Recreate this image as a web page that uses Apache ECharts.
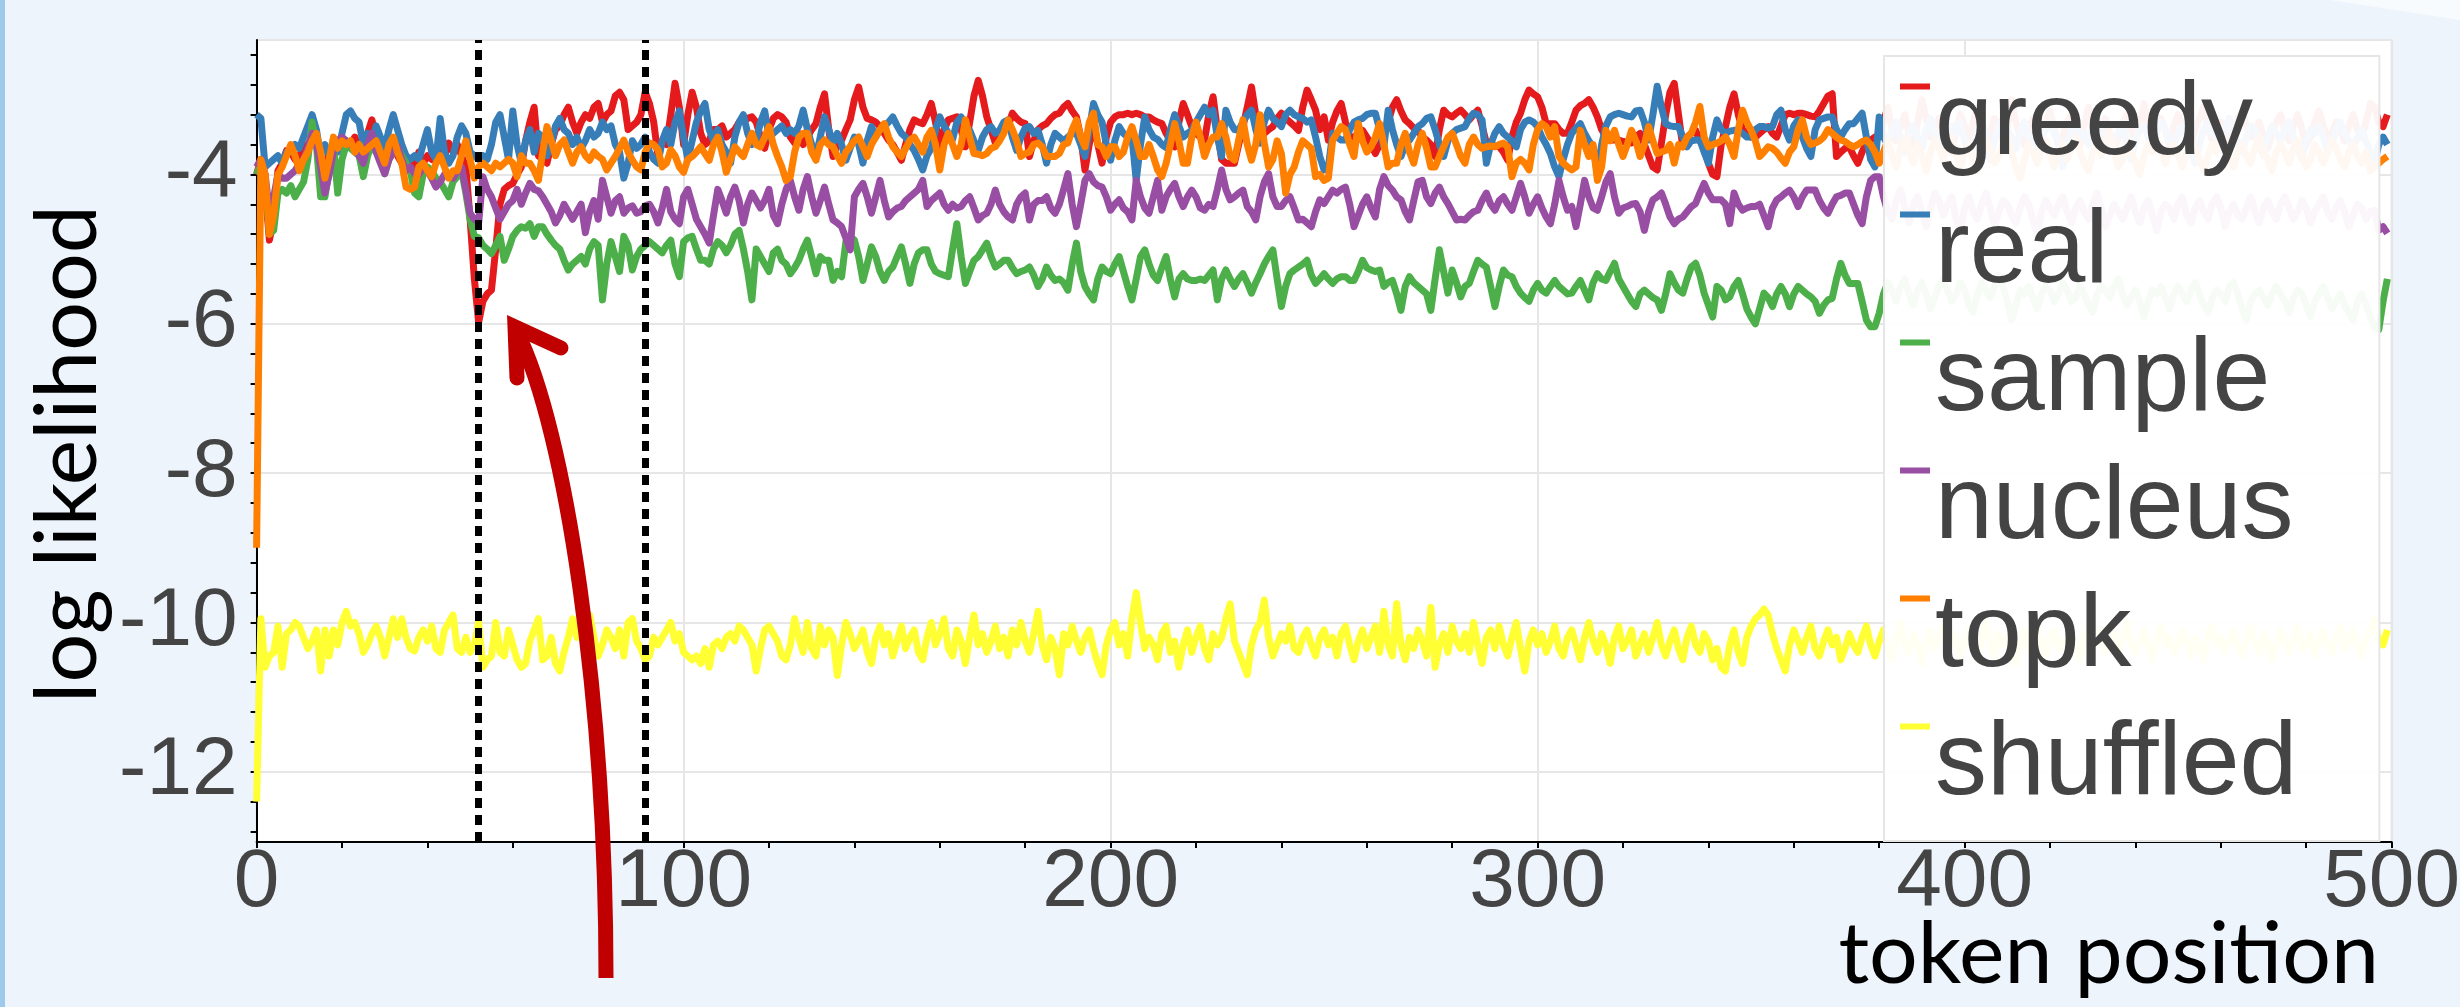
<!DOCTYPE html>
<html>
<head>
<meta charset="utf-8">
<script src="https://cdn.jsdelivr.net/npm/echarts@6/dist/echarts.min.js"></script>
<style>
html,body{margin:0;padding:0;background:#EDF4FB;}
#chart{width:2460px;height:1007px;}
</style>
</head>
<body>
<div id="chart"></div>
<script>
const seriesNames = ['greedy','real','sample','nucleus','topk','shuffled'];
const seriesColors = ['#e41a1c','#377eb8','#4daf4a','#984ea3','#ff7f00','#ffff33'];
const xTickLabels = [0,100,200,300,400,500];
const yTickLabels = [-12,-10,-8,-6,-4];
const yTickValues = [-12.8,-12.4,-12,-11.6,-11.2,-10.8,-10.4,-10,-9.6,-9.2,-8.8,-8.4,-8,-7.6,-7.2,-6.8,-6.4,-6,-5.6,-5.2,-4.8,-4.4,-4,-3.6,-3.2,-2.8,-2.4];
const markerPositions = [52, 91];

const greedy = [
-4.0,-3.8,-4.2,-4.88,-4.6,-3.95,-3.85,-3.68,-3.7,-3.8,-3.75,-3.65,-3.6,-3.5,-3.55,-3.85,-3.95,-3.7,-3.6,-3.65,-3.7,-3.55,-3.6,-3.5,-3.65,
-3.7,-3.45,-3.27,-3.5,-3.65,-3.8,-3.7,-3.55,-3.75,-3.85,-3.95,-3.8,-3.9,-3.7,-3.85,-3.75,-3.8,-3.7,-3.65,-3.75,-3.58,-3.7,-3.6,-3.75,-3.9,
-4.6,-5.4,-5.98,-5.7,-5.6,-5.55,-5.0,-4.4,-4.2,-4.15,-4.12,-4.0,-3.9,-3.55,-3.3,-3.1,-3.75,-3.8,-3.85,-3.6,-3.4,-3.35,-3.2,-3.1,-3.3,
-3.45,-3.3,-3.2,-3.25,-3.1,-3.05,-3.3,-3.2,-3.15,-2.95,-2.9,-3.0,-3.4,-3.35,-3.3,-3.2,-2.9,-3.05,-3.3,-3.75,-3.55,-3.6,-3.2,-2.78,-3.1,
-3.6,-3.2,-2.9,-3.1,-3.45,-3.6,-3.55,-3.4,-3.4,-3.35,-3.5,-3.45,-3.4,-3.3,-3.25,-3.25,-3.23,-3.3,-3.5,-3.65,-3.4,-3.25,-3.2,-3.23,-3.3,
-3.5,-3.58,-3.45,-3.6,-3.5,-3.4,-3.32,-3.1,-2.92,-3.4,-3.76,-3.6,-3.54,-3.4,-3.27,-3.0,-2.83,-3.1,-3.25,-3.27,-3.3,-3.36,-3.45,-3.54,-3.6,
-3.7,-3.81,-3.6,-3.4,-3.27,-3.3,-3.32,-3.2,-3.05,-3.3,-3.63,-3.4,-3.27,-3.25,-3.23,-3.4,-3.63,-3.3,-2.95,-2.74,-2.95,-3.23,-3.4,-3.58,-3.45,
-3.4,-3.36,-3.18,-3.25,-3.3,-3.32,-3.76,-3.55,-3.4,-3.35,-3.32,-3.25,-3.2,-3.18,-3.1,-3.05,-3.15,-3.23,-3.5,-3.94,-3.6,-3.32,-3.6,-3.85,-3.5,
-3.3,-3.23,-3.2,-3.2,-3.18,-3.2,-3.18,-3.2,-3.23,-3.23,-3.27,-3.3,-3.32,-3.45,-3.55,-3.63,-3.3,-3.05,-3.2,-3.36,-3.45,-3.5,-3.54,-3.2,-2.96,
-3.4,-3.8,-3.85,-3.85,-3.85,-3.6,-3.36,-3.1,-2.83,-3.2,-3.5,-3.45,-3.4,-3.36,-3.25,-3.18,-3.25,-3.3,-3.35,-3.41,-3.1,-2.87,-3.0,-3.14,-3.4,
-3.23,-3.54,-3.3,-3.15,-3.05,-3.3,-3.5,-3.5,-3.45,-3.41,-3.5,-3.6,-3.72,-3.6,-3.5,-3.3,-3.1,-3.0,-3.15,-3.27,-3.32,-3.38,-3.41,-3.5,-3.54,
-3.6,-3.76,-3.4,-3.14,-3.2,-3.23,-3.18,-3.14,-3.2,-3.27,-3.2,-3.14,-3.35,-3.58,-3.6,-3.62,-3.63,-3.7,-3.81,-3.5,-3.3,-3.18,-3.0,-2.87,-2.92,
-2.96,-3.1,-3.32,-3.32,-3.32,-3.4,-3.45,-3.45,-3.3,-3.14,-3.08,-3.05,-3.0,-3.1,-3.23,-3.4,-3.5,-3.54,-3.54,-3.54,-3.56,-3.57,-3.58,-3.5,-3.45,
-3.6,-3.75,-3.9,-3.94,-3.58,-3.2,-2.9,-2.78,-3.2,-3.63,-3.5,-3.45,-3.41,-3.55,-3.63,-3.85,-4.0,-4.03,-3.6,-3.36,-3.1,-2.92,-3.2,-3.4,-3.45,
-3.5,-3.5,-3.45,-3.4,-3.36,-3.45,-3.5,-3.35,-3.2,-3.18,-3.2,-3.18,-3.18,-3.2,-3.22,-3.23,-3.15,-3.05,-2.95,-2.92,-3.76,-3.7,-3.65,-3.63,-3.75,
-3.85,-3.7,-3.58,-3.54,-3.5,-3.5,-3.3,-3.1,-3.4,-3.55,-3.35,-3.2,-3.45,-3.6,-3.3,-3.0,-3.25,-3.5,-3.4,-3.25,-3.35,-3.6,-3.7,-3.4,-3.2,
-3.35,-3.5,-3.3,-3.1,-3.4,-3.6,-3.45,-3.25,-3.4,-3.55,-3.35,-3.0,-3.3,-3.5,-3.6,-3.4,-3.25,-3.45,-3.55,-3.3,-3.15,-3.4,-3.6,-3.5,-3.3,
-3.2,-3.45,-3.6,-3.35,-3.1,-3.3,-3.5,-3.4,-3.25,-3.45,-3.65,-3.5,-3.3,-3.2,-3.4,-3.55,-3.35,-3.05,-3.3,-3.5,-3.45,-3.25,-3.4,-3.6,-3.35,
-3.2,-3.35,-3.5,-3.6,-3.4,-3.25,-3.1,-3.35,-3.55,-3.45,-3.3,-3.4,-3.6,-3.5,-3.25,-3.15,-3.35,-3.5,-3.4,-3.3,-3.5,-3.65,-3.45,-3.3,-3.2,
-3.4,-3.55,-3.35,-3.2,-3.4,-3.6,-3.5,-3.3,-3.15,-3.35,-3.5,-3.45,-3.3,-3.4,-3.55,-3.35,-3.2,-3.4,-3.5,-3.3,-3.05,-3.1,-3.3,-3.36,-3.2
];

const real = [
-3.2,-3.25,-3.9,-3.85,-3.8,-3.75,-3.85,-3.7,-3.7,-3.6,-3.65,-3.5,-3.35,-3.2,-3.4,-3.75,-3.6,-3.75,-3.65,-3.7,-3.45,-3.2,-3.15,-3.25,-3.3,
-3.6,-3.45,-3.55,-3.35,-3.5,-3.65,-3.4,-3.2,-3.4,-3.6,-3.75,-3.8,-3.75,-3.8,-3.6,-3.4,-3.7,-3.8,-3.25,-3.7,-3.85,-3.75,-3.5,-3.35,-3.45,
-3.7,-3.75,-3.8,-3.75,-3.8,-3.6,-3.3,-3.2,-3.5,-3.8,-3.15,-3.6,-3.85,-3.55,-3.4,-3.7,-3.45,-3.5,-3.75,-3.6,-3.35,-3.25,-3.4,-3.45,-3.6,
-3.5,-3.65,-3.55,-3.4,-3.5,-3.45,-3.3,-3.4,-3.35,-3.6,-3.7,-4.05,-3.85,-3.55,-3.65,-3.6,-3.5,-3.7,-3.8,-3.85,-3.55,-3.4,-3.6,-3.3,-3.15,
-3.5,-3.8,-3.55,-3.3,-3.15,-3.05,-3.4,-3.55,-3.4,-3.6,-3.7,-3.85,-3.5,-3.3,-3.2,-3.45,-3.6,-3.55,-3.3,-3.15,-3.5,-3.45,-3.4,-3.35,-3.45,
-3.4,-3.45,-3.35,-3.14,-3.4,-3.6,-3.76,-3.5,-3.23,-3.4,-3.58,-3.45,-3.6,-3.81,-3.65,-3.5,-3.6,-3.85,-3.55,-3.36,-3.5,-3.4,-3.36,-3.3,-3.23,
-3.35,-3.45,-3.5,-3.6,-3.68,-3.8,-3.94,-3.75,-3.65,-3.4,-3.23,-3.35,-3.45,-3.53,-3.3,-3.23,-3.35,-3.41,-3.55,-3.68,-3.5,-3.4,-3.36,-3.45,-3.41,
-3.3,-3.27,-3.5,-3.68,-3.5,-3.38,-3.36,-3.45,-3.41,-3.6,-3.85,-3.6,-3.45,-3.5,-3.55,-3.5,-3.45,-3.45,-3.6,-3.76,-3.4,-3.05,-3.2,-3.3,-3.6,
-3.81,-3.55,-3.36,-3.45,-3.5,-3.5,-4.08,-3.6,-3.23,-3.4,-3.5,-3.53,-3.6,-3.64,-3.4,-3.2,-3.35,-3.5,-3.45,-3.41,-3.3,-3.2,-3.1,-3.2,-3.14,
-3.5,-3.76,-3.14,-3.3,-3.4,-3.41,-3.3,-3.2,-3.14,-3.4,-3.58,-3.3,-3.14,-3.25,-3.3,-3.36,-3.2,-3.14,-3.2,-3.23,-3.25,-3.3,-3.27,-3.5,-3.76,
-3.94,-3.9,-3.45,-3.5,-3.54,-3.54,-3.4,-3.3,-3.27,-3.25,-3.2,-3.18,-3.18,-3.4,-3.63,-3.14,-3.4,-3.6,-3.76,-3.6,-3.54,-3.45,-3.36,-3.32,-3.25,
-3.23,-3.4,-3.6,-3.76,-3.55,-3.45,-3.4,-3.38,-3.36,-3.25,-3.18,-3.2,-3.27,-3.85,-3.6,-3.45,-3.36,-3.45,-3.5,-3.55,-3.63,-3.4,-3.3,-3.27,-3.3,
-3.36,-3.5,-3.6,-3.72,-3.9,-4.03,-3.8,-3.6,-3.45,-3.38,-3.32,-3.45,-3.55,-3.63,-3.99,-3.6,-3.35,-3.23,-3.2,-3.18,-3.2,-3.22,-3.23,-3.15,-3.14,
-3.3,-3.54,-3.2,-2.82,-3.1,-3.32,-3.35,-3.36,-3.36,-3.5,-3.63,-3.55,-3.54,-3.54,-3.7,-3.85,-3.5,-3.27,-3.4,-3.45,-3.42,-3.41,-3.41,-3.45,-3.5,
-3.5,-3.4,-3.36,-3.36,-3.38,-3.36,-3.2,-3.14,-3.4,-3.54,-3.35,-3.27,-3.5,-3.65,-3.76,-3.4,-3.27,-3.25,-3.23,-3.23,-3.4,-3.5,-3.4,-3.32,-3.32,
-3.25,-3.18,-3.5,-3.8,-3.9,-3.23,-3.5,-3.6,-3.4,-3.3,-3.55,-3.7,-3.45,-3.35,-3.5,-3.65,-3.4,-3.25,-3.45,-3.6,-3.75,-3.5,-3.35,-3.45,-3.3,
-3.55,-3.7,-3.6,-3.4,-3.3,-3.45,-3.8,-3.55,-3.35,-3.25,-3.4,-3.5,-3.65,-3.45,-3.3,-3.5,-3.6,-3.75,-3.5,-3.4,-3.3,-3.45,-3.55,-3.9,-3.6,
-3.4,-3.3,-3.5,-3.45,-3.6,-3.35,-3.2,-3.4,-3.55,-3.7,-3.5,-3.45,-3.3,-3.6,-3.8,-3.55,-3.4,-3.35,-3.5,-3.65,-3.45,-3.3,-3.4,-3.55,-3.6,
-3.45,-3.35,-3.5,-3.7,-3.85,-3.6,-3.4,-3.3,-3.45,-3.5,-3.6,-3.4,-3.25,-3.45,-3.55,-3.7,-3.5,-3.35,-3.4,-3.6,-3.75,-3.5,-3.35,-3.45,-3.55,
-3.4,-3.3,-3.5,-3.65,-3.8,-3.55,-3.4,-3.45,-3.35,-3.5,-3.7,-3.6,-3.4,-3.3,-3.45,-3.55,-3.65,-3.5,-3.4,-3.55,-3.7,-3.85,-3.6,-3.5,-3.6
];

const sample = [
-4.0,-3.85,-4.1,-4.8,-4.75,-4.25,-4.2,-4.25,-4.15,-4.3,-4.2,-4.1,-3.8,-3.3,-3.6,-4.3,-4.3,-3.95,-3.6,-4.25,-3.8,-3.6,-3.65,-3.7,-3.75,
-4.03,-3.75,-3.6,-3.7,-3.8,-3.99,-3.8,-3.7,-3.65,-3.75,-3.85,-3.95,-4.25,-4.3,-4.0,-3.9,-3.95,-4.05,-4.1,-4.2,-4.3,-4.1,-4.03,-3.95,-4.25,
-4.6,-4.83,-4.85,-4.95,-5.0,-5.06,-4.95,-4.83,-5.15,-5.0,-4.83,-4.75,-4.7,-4.72,-4.66,-4.83,-4.7,-4.7,-4.8,-4.88,-4.95,-5.0,-5.15,-5.28,-5.2,
-5.15,-5.1,-5.2,-5.0,-4.9,-4.95,-5.68,-5.2,-4.9,-5.1,-5.3,-4.83,-4.95,-5.28,-5.1,-5.0,-4.95,-4.9,-4.95,-5.0,-5.05,-4.95,-4.88,-5.2,-5.37,
-4.9,-4.85,-4.83,-5.0,-5.15,-5.15,-5.2,-5.0,-4.9,-4.95,-5.05,-4.95,-4.8,-4.75,-5.0,-5.3,-5.68,-5.0,-5.1,-5.2,-5.3,-5.05,-5.0,-5.15,-5.2,
-5.33,-5.25,-5.15,-5.0,-4.88,-5.1,-5.33,-5.1,-5.15,-5.15,-5.42,-5.3,-5.37,-4.9,-4.83,-4.88,-5.1,-5.42,-5.2,-4.97,-5.1,-5.3,-5.42,-5.3,-5.24,
-5.1,-4.97,-5.2,-5.46,-5.2,-5.05,-5.01,-5.01,-5.2,-5.3,-5.33,-5.35,-5.37,-5.0,-4.66,-5.1,-5.46,-5.3,-5.15,-5.1,-5.01,-4.92,-5.1,-5.24,-5.2,
-5.15,-5.15,-5.25,-5.33,-5.3,-5.28,-5.24,-5.35,-5.5,-5.4,-5.24,-5.35,-5.42,-5.4,-5.45,-5.55,-5.2,-4.92,-5.3,-5.5,-5.6,-5.68,-5.4,-5.24,-5.3,
-5.33,-5.2,-5.1,-5.3,-5.5,-5.68,-5.4,-5.1,-5.01,-5.2,-5.35,-5.42,-5.25,-5.1,-5.4,-5.64,-5.4,-5.33,-5.4,-5.42,-5.42,-5.4,-5.42,-5.35,-5.28,
-5.68,-5.4,-5.28,-5.4,-5.5,-5.4,-5.33,-5.45,-5.59,-5.45,-5.33,-5.2,-5.1,-5.01,-5.4,-5.77,-5.5,-5.33,-5.28,-5.24,-5.2,-5.15,-5.35,-5.46,-5.4,
-5.33,-5.4,-5.46,-5.4,-5.37,-5.37,-5.42,-5.42,-5.3,-5.15,-5.25,-5.28,-5.3,-5.28,-5.5,-5.45,-5.42,-5.6,-5.82,-5.5,-5.37,-5.45,-5.5,-5.55,-5.6,
-5.82,-5.4,-5.01,-5.3,-5.59,-5.28,-5.45,-5.64,-5.5,-5.46,-5.3,-5.15,-5.2,-5.24,-5.5,-5.77,-5.5,-5.28,-5.35,-5.37,-5.5,-5.59,-5.65,-5.7,-5.55,
-5.46,-5.55,-5.59,-5.5,-5.42,-5.5,-5.55,-5.6,-5.59,-5.5,-5.42,-5.55,-5.68,-5.45,-5.33,-5.4,-5.42,-5.3,-5.19,-5.4,-5.5,-5.6,-5.7,-5.77,-5.6,
-5.55,-5.6,-5.65,-5.68,-5.82,-5.6,-5.33,-5.45,-5.55,-5.59,-5.4,-5.24,-5.19,-5.35,-5.59,-5.75,-5.91,-5.5,-5.55,-5.68,-5.64,-5.5,-5.42,-5.6,-5.8,
-5.91,-6.0,-5.8,-5.59,-5.65,-5.77,-5.6,-5.5,-5.6,-5.77,-5.6,-5.5,-5.55,-5.6,-5.64,-5.7,-5.86,-5.75,-5.68,-5.66,-5.4,-5.19,-5.35,-5.46,-5.46,
-5.46,-5.7,-5.95,-6.04,-6.04,-5.86,-5.6,-5.45,-5.55,-5.7,-5.5,-5.4,-5.6,-5.75,-5.55,-5.45,-5.6,-5.8,-5.65,-5.5,-5.4,-5.55,-5.7,-5.6,-5.45,
-5.55,-5.75,-5.85,-5.6,-5.45,-5.55,-5.65,-5.5,-5.35,-5.5,-5.7,-5.95,-5.75,-5.55,-5.6,-5.5,-5.65,-5.8,-5.6,-5.5,-5.55,-5.7,-5.6,-5.45,-5.55,
-5.7,-5.65,-5.5,-5.6,-5.75,-5.85,-5.6,-5.5,-5.55,-5.65,-5.5,-5.4,-5.6,-5.75,-5.65,-5.55,-5.7,-5.9,-5.7,-5.55,-5.6,-5.5,-5.65,-5.8,-5.6,
-5.5,-5.6,-5.7,-5.55,-5.45,-5.6,-5.75,-5.85,-5.65,-5.55,-5.6,-5.7,-5.5,-5.45,-5.6,-5.8,-5.95,-5.7,-5.6,-5.55,-5.65,-5.75,-5.6,-5.5,-5.6,
-5.7,-5.85,-5.65,-5.55,-5.6,-5.75,-5.9,-5.7,-5.6,-5.5,-5.65,-5.8,-5.7,-5.6,-5.75,-5.85,-5.95,-5.7,-5.6,-5.75,-5.9,-6.05,-6.08,-5.7,-5.4
];

const nucleus = [
-3.9,-3.8,-4.0,-4.5,-4.3,-4.0,-4.05,-4.05,-4.0,-3.95,-3.85,-3.8,-3.65,-3.45,-3.6,-3.9,-4.25,-4.0,-3.7,-3.55,-3.5,-3.55,-3.6,-3.65,-3.75,
-3.85,-3.6,-3.45,-3.7,-3.85,-3.99,-3.8,-3.7,-3.63,-3.8,-3.95,-3.9,-3.99,-4.0,-3.9,-3.95,-4.05,-4.17,-4.1,-4.0,-3.99,-4.05,-3.95,-3.9,-4.2,
-4.52,-4.6,-4.65,-4.03,-4.2,-4.3,-4.45,-4.6,-4.5,-4.4,-4.35,-4.2,-4.4,-4.25,-4.12,-4.2,-4.22,-4.3,-4.4,-4.5,-4.65,-4.55,-4.4,-4.5,-4.6,
-4.5,-4.4,-4.78,-4.5,-4.35,-4.6,-4.08,-4.3,-4.52,-4.35,-4.3,-4.52,-4.45,-4.42,-4.52,-4.5,-4.42,-4.4,-4.5,-4.65,-4.45,-4.2,-4.5,-4.6,-4.66,
-4.3,-4.2,-4.4,-4.6,-4.7,-4.8,-4.92,-4.55,-4.2,-4.35,-4.52,-4.3,-4.17,-4.35,-4.65,-4.4,-4.25,-4.35,-4.45,-4.35,-4.2,-4.55,-4.66,-4.4,-4.2,
-4.08,-4.3,-4.48,-4.2,-4.03,-4.3,-4.52,-4.35,-4.17,-4.4,-4.61,-4.65,-4.7,-4.85,-5.01,-4.3,-4.2,-4.12,-4.3,-4.52,-4.3,-4.08,-4.35,-4.57,-4.5,
-4.45,-4.43,-4.35,-4.3,-4.25,-4.2,-4.08,-4.43,-4.35,-4.3,-4.25,-4.4,-4.48,-4.4,-4.45,-4.43,-4.35,-4.3,-4.45,-4.61,-4.55,-4.52,-4.4,-4.21,-4.4,
-4.5,-4.57,-4.61,-4.4,-4.3,-4.25,-4.61,-4.4,-4.35,-4.35,-4.3,-4.45,-4.52,-4.4,-4.2,-3.99,-4.4,-4.7,-4.4,-4.08,-3.99,-4.1,-4.15,-4.17,-4.3,
-4.48,-4.4,-4.34,-4.45,-4.5,-4.61,-4.08,-4.3,-4.45,-4.52,-4.3,-4.08,-4.48,-4.3,-4.2,-4.12,-4.3,-4.43,-4.3,-4.21,-4.3,-4.45,-4.48,-4.4,-4.43,
-4.2,-3.94,-4.2,-4.34,-4.3,-4.25,-4.21,-4.43,-4.5,-4.61,-4.3,-4.1,-3.99,-4.3,-4.43,-4.43,-4.35,-4.3,-4.45,-4.61,-4.6,-4.65,-4.7,-4.5,-4.34,
-4.39,-4.3,-4.21,-4.25,-4.2,-4.17,-4.4,-4.7,-4.55,-4.4,-4.3,-4.45,-4.57,-4.2,-4.03,-4.15,-4.21,-4.3,-4.34,-4.5,-4.61,-4.35,-4.1,-4.08,-4.3,
-4.39,-4.25,-4.17,-4.3,-4.39,-4.5,-4.61,-4.6,-4.61,-4.55,-4.5,-4.48,-4.35,-4.25,-4.4,-4.48,-4.35,-4.3,-4.4,-4.48,-4.3,-4.12,-4.3,-4.52,-4.4,
-4.3,-4.45,-4.57,-4.66,-4.4,-4.08,-4.3,-4.48,-4.43,-4.7,-4.4,-4.08,-4.3,-4.45,-4.48,-4.3,-4.1,-3.99,-4.3,-4.52,-4.45,-4.43,-4.4,-4.39,-4.5,
-4.75,-4.5,-4.34,-4.3,-4.25,-4.4,-4.57,-4.66,-4.6,-4.57,-4.5,-4.43,-4.39,-4.25,-4.12,-4.25,-4.34,-4.34,-4.34,-4.4,-4.66,-4.25,-4.4,-4.48,-4.45,
-4.43,-4.43,-4.4,-4.55,-4.7,-4.45,-4.34,-4.3,-4.25,-4.21,-4.3,-4.43,-4.3,-4.21,-4.21,-4.21,-4.35,-4.45,-4.52,-4.4,-4.3,-4.28,-4.25,-4.25,-4.4,
-4.55,-4.66,-4.3,-4.08,-4.03,-4.03,-4.3,-4.5,-4.6,-4.35,-4.2,-4.45,-4.65,-4.4,-4.3,-4.5,-4.7,-4.45,-4.25,-4.35,-4.55,-4.4,-4.3,-4.6,-4.75,
-4.45,-4.3,-4.5,-4.6,-4.4,-4.25,-4.45,-4.7,-4.5,-4.35,-4.4,-4.55,-4.65,-4.45,-4.3,-4.4,-4.6,-4.8,-4.5,-4.35,-4.45,-4.55,-4.4,-4.3,-4.5,
-4.65,-4.45,-4.35,-4.5,-4.6,-4.4,-4.25,-4.45,-4.7,-4.55,-4.4,-4.5,-4.6,-4.45,-4.3,-4.5,-4.65,-4.45,-4.35,-4.55,-4.75,-4.5,-4.4,-4.45,-4.6,
-4.4,-4.3,-4.55,-4.65,-4.45,-4.35,-4.5,-4.6,-4.4,-4.3,-4.45,-4.7,-4.5,-4.4,-4.55,-4.6,-4.45,-4.3,-4.5,-4.65,-4.45,-4.35,-4.5,-4.6,-4.4,
-4.3,-4.45,-4.6,-4.5,-4.35,-4.45,-4.65,-4.5,-4.4,-4.3,-4.5,-4.6,-4.45,-4.35,-4.5,-4.7,-4.55,-4.4,-4.45,-4.6,-4.5,-4.48,-4.75,-4.7,-4.79
];

const topk = [
-9.0,-3.8,-4.0,-4.8,-4.55,-4.0,-3.9,-3.75,-3.6,-3.75,-3.95,-3.8,-3.7,-3.55,-3.45,-3.7,-4.05,-3.8,-3.5,-3.65,-3.55,-3.6,-3.55,-3.7,-3.6,
-3.7,-3.65,-3.6,-3.55,-3.7,-3.85,-3.6,-3.5,-3.7,-3.85,-4.17,-4.2,-4.17,-3.9,-3.85,-3.95,-4.03,-3.85,-3.75,-3.9,-4.05,-3.95,-3.95,-3.75,-3.55,
-3.8,-4.05,-3.9,-3.85,-3.9,-3.95,-3.85,-3.9,-3.85,-3.8,-3.85,-4.03,-3.75,-3.85,-3.85,-3.95,-4.08,-3.7,-3.36,-3.55,-3.75,-3.6,-3.54,-3.7,-3.85,
-3.7,-3.63,-3.75,-3.81,-3.7,-3.76,-3.8,-3.94,-3.85,-3.76,-3.65,-3.54,-3.7,-3.81,-3.9,-3.94,-3.7,-3.58,-3.6,-3.67,-3.9,-3.85,-3.67,-3.75,-3.9,
-3.97,-3.8,-3.76,-3.7,-3.63,-3.72,-3.81,-3.6,-3.5,-3.7,-3.97,-3.8,-3.63,-3.7,-3.76,-3.6,-3.45,-3.6,-3.63,-3.5,-3.36,-3.6,-3.76,-3.9,-4.08,
-4.03,-3.7,-3.5,-3.45,-3.45,-3.7,-3.81,-3.6,-3.54,-3.6,-3.63,-3.75,-3.85,-3.7,-3.63,-3.55,-3.5,-3.63,-3.76,-3.6,-3.5,-3.4,-3.32,-3.5,-3.63,
-3.7,-3.76,-3.65,-3.54,-3.5,-3.6,-3.7,-3.5,-3.41,-3.6,-3.94,-3.6,-3.45,-3.6,-3.76,-3.6,-3.27,-3.5,-3.72,-3.73,-3.75,-3.72,-3.65,-3.63,-3.55,
-3.45,-3.27,-3.4,-3.55,-3.76,-3.72,-3.7,-3.6,-3.58,-3.63,-3.76,-3.76,-3.76,-3.72,-3.6,-3.58,-3.4,-3.27,-3.5,-3.63,-3.3,-3.18,-3.6,-3.63,-3.76,
-3.63,-3.63,-3.76,-3.7,-3.5,-3.36,-3.55,-3.76,-3.76,-3.6,-3.76,-3.94,-4.03,-3.85,-3.6,-3.32,-3.55,-3.85,-3.85,-3.5,-3.3,-3.5,-3.76,-3.6,-3.5,
-3.5,-3.32,-3.5,-3.76,-3.81,-3.54,-3.27,-3.6,-3.81,-3.6,-3.2,-3.58,-3.9,-3.8,-3.55,-3.72,-4.25,-4.0,-3.9,-3.7,-3.55,-3.6,-3.65,-4.03,-4.0,
-4.08,-4.05,-3.54,-3.45,-3.36,-3.4,-3.6,-3.76,-3.32,-3.55,-3.7,-3.63,-3.5,-3.32,-3.6,-3.9,-3.85,-3.85,-3.6,-3.45,-3.7,-3.85,-3.6,-3.45,-3.65,
-3.9,-3.9,-3.76,-3.63,-3.5,-3.45,-3.6,-3.76,-3.85,-3.6,-3.5,-3.6,-3.65,-3.63,-3.62,-3.63,-3.6,-3.58,-3.63,-4.03,-3.85,-3.8,-3.85,-3.94,-3.6,
-3.4,-3.32,-3.36,-3.5,-3.36,-3.76,-3.85,-3.9,-3.94,-3.9,-3.41,-3.6,-3.76,-3.6,-4.08,-3.9,-3.41,-3.55,-3.41,-3.6,-3.76,-3.6,-3.41,-3.55,-3.76,
-3.6,-3.36,-3.55,-3.72,-3.7,-3.68,-3.6,-3.85,-3.6,-3.63,-3.5,-3.45,-3.3,-3.09,-3.5,-3.63,-3.6,-3.58,-3.55,-3.5,-3.6,-3.76,-3.4,-3.14,-3.3,
-3.41,-3.55,-3.76,-3.7,-3.63,-3.65,-3.7,-3.78,-3.85,-3.7,-3.63,-3.4,-3.27,-3.5,-3.6,-3.58,-3.55,-3.5,-3.4,-3.45,-3.5,-3.54,-3.56,-3.6,-3.63,
-3.6,-3.56,-3.54,-3.6,-3.7,-3.85,-3.7,-3.55,-3.75,-3.9,-3.65,-3.5,-3.7,-3.85,-3.6,-3.75,-3.95,-3.7,-3.55,-3.65,-3.8,-3.6,-3.5,-3.75,-3.9,
-3.7,-3.6,-3.8,-3.95,-3.7,-3.55,-3.65,-3.85,-3.75,-3.6,-3.5,-3.7,-3.9,-4.05,-3.8,-3.6,-3.7,-3.85,-3.65,-3.55,-3.75,-3.9,-3.7,-3.6,-3.8,
-3.65,-3.5,-3.7,-3.85,-3.95,-3.7,-3.6,-3.75,-3.55,-3.45,-3.7,-3.9,-3.8,-3.6,-3.7,-3.85,-4.0,-3.75,-3.6,-3.7,-3.55,-3.65,-3.85,-3.7,-3.6,
-3.75,-3.9,-3.7,-3.55,-3.65,-3.8,-3.95,-3.75,-3.6,-3.7,-3.5,-3.65,-3.8,-3.9,-3.7,-3.6,-3.75,-3.85,-3.65,-3.5,-3.7,-3.8,-3.95,-3.7,-3.6,
-3.7,-3.85,-3.65,-3.55,-3.75,-3.9,-3.8,-3.6,-3.7,-3.85,-3.7,-3.55,-3.65,-3.8,-3.9,-3.7,-3.6,-3.75,-3.85,-3.7,-3.95,-3.9,-3.85,-3.8,-3.76
];

const shuffled = [
-12.4,-9.95,-10.6,-10.45,-10.4,-10.05,-10.6,-10.15,-10.1,-10.0,-10.05,-10.2,-10.35,-10.25,-10.1,-10.65,-10.1,-10.45,-10.1,-10.3,-10.0,-9.85,-10.05,-10.0,-10.15,
-10.4,-10.3,-10.15,-10.05,-10.2,-10.45,-10.2,-9.95,-10.2,-9.95,-10.2,-10.35,-10.38,-10.2,-10.1,-10.25,-10.05,-10.35,-10.4,-10.1,-10.0,-9.9,-10.35,-10.4,-10.2,
-10.4,-10.3,-10.0,-10.6,-10.5,-10.45,-10.0,-10.4,-10.45,-10.1,-10.3,-10.5,-10.6,-10.55,-10.25,-10.1,-9.95,-10.5,-10.45,-10.2,-10.55,-10.65,-10.4,-10.2,-9.95,
-10.2,-9.95,-10.1,-9.9,-10.2,-10.45,-10.3,-10.1,-10.2,-10.35,-10.1,-10.45,-10.0,-9.95,-10.25,-10.35,-10.5,-10.45,-10.2,-10.3,-10.2,-10.1,-10.0,-10.25,-10.15,
-10.4,-10.45,-10.5,-10.45,-10.55,-10.35,-10.6,-10.3,-10.25,-10.35,-10.2,-10.15,-10.25,-10.05,-10.1,-10.2,-10.3,-10.65,-10.35,-10.1,-10.05,-10.15,-10.25,-10.45,-10.5,
-10.3,-9.95,-10.2,-10.4,-10.0,-10.35,-10.45,-10.05,-10.3,-10.1,-10.2,-10.71,-10.3,-10.0,-10.15,-10.35,-10.25,-10.1,-10.4,-10.55,-10.2,-10.05,-10.3,-10.15,-10.45,
-10.25,-10.05,-10.35,-10.2,-10.1,-10.4,-10.5,-10.2,-10.0,-10.3,-10.15,-9.95,-10.35,-10.45,-10.1,-10.25,-10.55,-10.2,-9.9,-10.3,-10.15,-10.4,-10.25,-10.05,-10.35,
-10.2,-10.45,-10.1,-10.3,-10.0,-10.25,-10.4,-10.15,-9.85,-10.3,-10.5,-10.2,-10.35,-10.7,-10.15,-10.3,-10.05,-10.25,-10.4,-10.2,-10.1,-10.35,-10.55,-10.7,-10.3,
-10.1,-10.0,-10.3,-10.15,-10.45,-9.95,-9.6,-10.0,-10.35,-10.2,-10.3,-10.5,-10.15,-10.05,-10.4,-10.25,-10.6,-10.3,-10.1,-10.4,-10.2,-10.05,-10.35,-10.5,-10.15,
-10.3,-10.2,-9.95,-9.75,-10.25,-10.4,-10.55,-10.7,-10.3,-10.1,-10.0,-9.7,-10.2,-10.45,-10.3,-10.15,-10.25,-10.05,-10.35,-10.4,-10.2,-10.1,-10.3,-10.45,-10.2,
-10.1,-10.3,-10.2,-10.45,-10.15,-10.05,-10.3,-10.5,-10.25,-10.1,-10.35,-10.2,-10.05,-10.4,-9.85,-10.3,-10.45,-9.75,-10.3,-10.5,-10.2,-10.35,-10.1,-10.25,-10.45,
-9.8,-10.6,-10.3,-10.15,-10.4,-10.05,-10.25,-10.35,-10.15,-10.4,-10.0,-10.3,-10.55,-10.2,-10.1,-10.35,-10.05,-10.3,-10.45,-10.2,-10.0,-10.35,-10.65,-10.25,-10.1,
-10.3,-10.15,-10.4,-10.25,-10.05,-10.35,-10.45,-10.2,-10.1,-10.3,-10.5,-10.2,-10.0,-10.25,-10.4,-10.15,-10.3,-10.55,-10.2,-10.05,-10.35,-10.25,-10.1,-10.45,-10.3,
-10.15,-10.4,-10.2,-10.0,-10.3,-10.45,-10.25,-10.1,-10.35,-10.5,-10.2,-10.05,-10.3,-10.4,-10.15,-10.25,-10.5,-10.35,-10.6,-10.65,-10.3,-10.1,-10.4,-10.55,-10.2,
-10.05,-9.95,-9.9,-9.82,-9.9,-10.15,-10.35,-10.5,-10.65,-10.3,-10.1,-10.25,-10.4,-10.2,-10.05,-10.35,-10.45,-10.25,-10.1,-10.3,-10.2,-10.5,-10.35,-10.15,-10.3,
-10.4,-10.2,-10.05,-10.3,-10.45,-10.25,-10.1,-10.35,-10.5,-10.2,-10.0,-10.3,-10.4,-10.15,-10.3,-10.55,-10.25,-10.1,-10.35,-10.2,-10.05,-10.4,-10.3,-10.15,-10.45,
-10.25,-10.1,-10.35,-10.5,-10.2,-10.0,-10.3,-10.45,-10.15,-10.3,-10.2,-10.4,-10.55,-10.25,-10.1,-10.35,-10.2,-10.05,-10.3,-10.45,-10.2,-10.1,-10.35,-10.25,-10.4,
-10.15,-10.3,-10.5,-10.2,-10.05,-10.35,-10.25,-10.1,-10.4,-10.3,-10.15,-10.45,-10.2,-10.0,-10.3,-10.4,-10.25,-10.1,-10.35,-10.5,-10.2,-10.05,-10.3,-10.2,-10.4,
-10.3,-10.1,-10.25,-10.45,-10.2,-10.35,-10.5,-10.15,-10.05,-10.3,-10.2,-10.4,-10.25,-10.1,-10.35,-10.45,-10.2,-10.05,-10.3,-10.4,-10.15,-10.25,-10.5,-10.3,-10.1,
-10.25,-10.4,-10.2,-10.05,-10.35,-10.3,-10.15,-10.45,-10.25,-10.1,-10.3,-10.4,-10.2,-10.05,-10.35,-10.25,-10.1,-10.3,-10.45,-10.2,-10.1,-9.95,-10.25,-10.3,-10.1
];

const allSeries = [greedy, real, sample, nucleus, topk, shuffled];
const LINE_WIDTH = 7;

const chart = echarts.init(document.getElementById('chart'), null, {renderer: 'canvas'});

const LEG_ICON = 'path://M0,0L30,0L30,6L0,6Z M0,82.9L0.05,83L0,83Z';

const series = allSeries.map(function (arr, k) {
  const s = {
    name: seriesNames[k],
    type: 'line',
    yAxisIndex: 0,
    data: arr.map(function (v, i) { return [i, v]; }),
    showSymbol: false,
    symbol: 'none',
    lineStyle: {width: LINE_WIDTH, color: seriesColors[k], cap: 'butt', join: 'round'},
    itemStyle: {color: seriesColors[k]},
    emphasis: {disabled: true},
    animation: false,
    z: 2
  };
  if (k === 0) {
    s.markLine = {
      silent: true,
      symbol: ['none', 'none'],
      label: {show: false},
      lineStyle: {color: '#000', width: 7, type: [10, 7]},
      data: markerPositions.map(function (x) { return {xAxis: x}; }),
      animation: false
    };
  }
  return s;
});

const option = {
  backgroundColor: '#EDF4FB',
  animation: false,
  grid: {
    left: 256.6, right: 68.4, top: 40, bottom: 165,
    show: true, backgroundColor: '#ffffff', borderColor: '#e6e6e6', borderWidth: 2,
    containLabel: false, outerBoundsMode: 'none'
  },
  legend: {
    show: true,
    orient: 'vertical',
    left: 1884, top: 56,
    padding: [5, 82, 12, 16],
    itemGap: 0,
    itemWidth: 30, itemHeight: 83,
    icon: LEG_ICON,
    backgroundColor: 'rgba(255,255,255,0.95)',
    borderColor: '#e6e6e6', borderWidth: 2,
    textStyle: {fontFamily: 'Liberation Sans', fontSize: 104, color: '#444', lineHeight: 128},
    data: seriesNames,
    selectedMode: false
  },
  xAxis: {
    type: 'value', min: 0, max: 500, interval: 100,
    name: 'token position', nameLocation: 'end', nameGap: -12.6,
    nameMoveOverlap: false,
    nameTextStyle: {fontFamily: 'Lato', fontSize: 86, color: '#000', align: 'right', verticalAlign: 'top', padding: [70, 0, 0, 0]},
    axisLine: {show: true, onZero: false, lineStyle: {color: '#000', width: 2}},
    axisTick: {show: true, length: 6, lineStyle: {color: '#000', width: 2}},
    minorTick: {show: true, splitNumber: 5, length: 6, lineStyle: {color: '#000', width: 2}},
    axisLabel: {show: true, fontFamily: 'Liberation Sans', fontSize: 82, color: '#444', margin: 0,
      customValues: xTickLabels},
    splitLine: {show: true, lineStyle: {color: '#e6e6e6', width: 2}}
  },
  yAxis: [{
    type: 'value', min: -12.94, max: -2.2, position: 'left',
    name: 'log likelihood', nameLocation: 'middle', nameGap: 145,
    nameMoveOverlap: false,
    nameTextStyle: {fontFamily: 'Lato', fontSize: 86, color: '#000', padding: [0, 26, 0, 0]},
    axisLine: {show: true, onZero: false, lineStyle: {color: '#000', width: 2}},
    axisTick: {show: true, length: 6, lineStyle: {color: '#000', width: 2}, customValues: yTickValues},
    axisLabel: {show: true, fontFamily: 'Liberation Sans', fontSize: 82, color: '#444', margin: 19,
      padding: [0, 0, 12, 0], customValues: yTickLabels},
    splitLine: {show: false}
  }, {
    type: 'value', min: -12.94, max: -2.2, position: 'right',
    axisLine: {show: false}, axisLabel: {show: false},
    axisTick: {show: false, customValues: yTickLabels},
    splitLine: {show: true, lineStyle: {color: '#e6e6e6', width: 2}}
  }],
  series: series,
  graphic: [
    {type: 'rect', z: 100, silent: true, shape: {x: 0, y: 0, width: 5, height: 1007}, style: {fill: '#9FC9EA'}},
    {type: 'polygon', z: 100, silent: true, shape: {points: [[2330, 0], [2460, 0], [2460, 20]]}, style: {fill: '#F8FBFE'}},
    {type: 'bezierCurve', z: 100, silent: true,
      shape: {x1: 606, y1: 978, cpx1: 606, cpy1: 700, cpx2: 566, cpy2: 430, x2: 517, y2: 332},
      style: {stroke: '#C00000', lineWidth: 15, fill: null, lineCap: 'butt'}},
    {type: 'polyline', z: 101, silent: true,
      shape: {points: [[517, 378], [515, 327], [561, 348]]},
      style: {stroke: '#C00000', lineWidth: 15, fill: null, lineCap: 'round', lineJoin: 'miter'}}
  ]
};

chart.setOption(option);
</script>
</body>
</html>
